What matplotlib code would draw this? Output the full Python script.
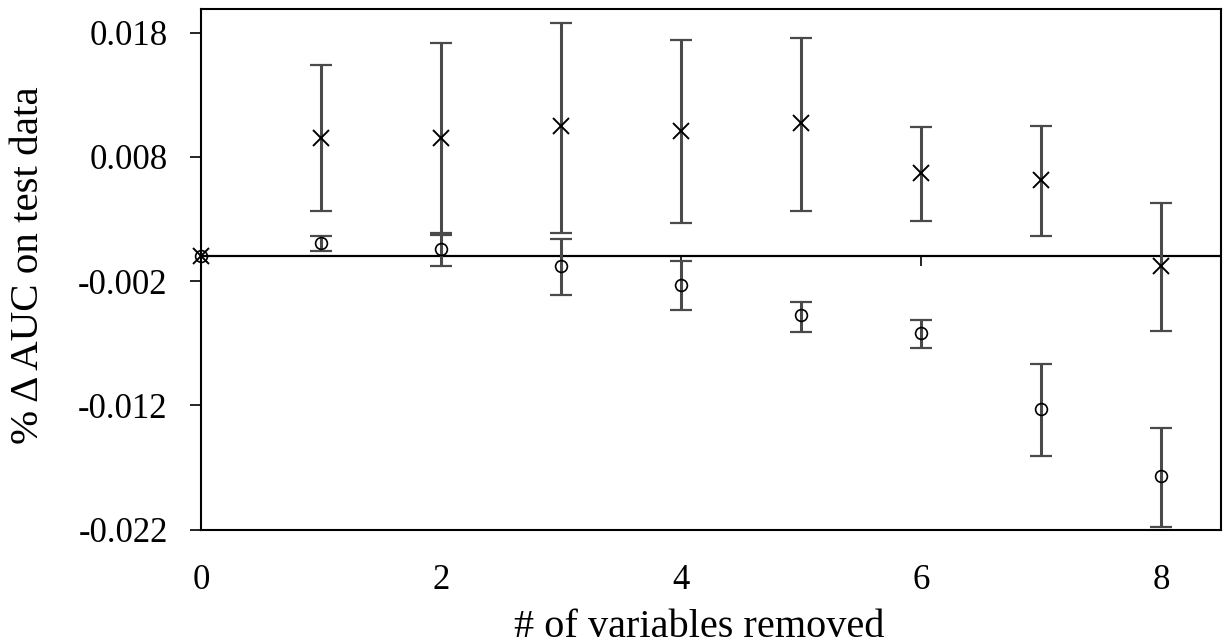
import matplotlib
matplotlib.use("Agg")
import matplotlib.pyplot as plt
import numpy as np

plt.rcParams['font.family'] = ['Liberation Serif', 'DejaVu Serif']

# data
n_removed = [0, 1, 2, 3, 4, 5, 6, 7, 8]
cross_mean  = [0.0, 0.0095, 0.0095, 0.0105, 0.0101, 0.01075, 0.0067, 0.0061, -0.0008]
cross_upper = [0.0, 0.0154, 0.0172, 0.0188, 0.0174, 0.0176, 0.0104, 0.0105, 0.0043]
cross_lower = [0.0, 0.0036, 0.0019, 0.0019, 0.0027, 0.0036, 0.0028, 0.0016, -0.0060]
circ_mean   = [0.0, 0.0011, 0.0006, -0.0008, -0.0023, -0.0047, -0.0062, -0.0123, -0.0177]
circ_upper  = [0.0, 0.0016, 0.0017, 0.0014, -0.0004, -0.0037, -0.0051, -0.0087, -0.0138]
circ_lower  = [0.0, 0.0004, -0.0008, -0.0031, -0.0043, -0.0061, -0.0074, -0.0161, -0.0218]
y_ticks = [-0.022, -0.012, -0.002, 0.008, 0.018]
y_tick_labels = ['-0.022', '-0.012', '-0.002', '0.008', '0.018']
x_ticks = [0, 2, 4, 6, 8]

W, H = 1224, 644
fig = plt.figure(figsize=(W / 100, H / 100), dpi=100)
L, R, T, B = 201, 1221, 9, 529.5
ax = fig.add_axes([L / W, 1 - B / H, (R - L) / W, (B - T) / H])

ylo, yhi = -0.022, 0.0199
ax.set_xlim(0, 8.5)
ax.set_ylim(ylo, yhi)

ax.axhline(0, color='black', lw=1.6, zorder=1)

def draw(mean, upper, lower, marker, ms, mew):
    x = np.array(n_removed)
    m = np.array(mean)
    err = np.vstack([m - np.array(lower), np.array(upper) - m])
    eb = ax.errorbar(x[1:], m[1:], yerr=err[:, 1:], fmt='none', ecolor='#4a4a4a',
                     elinewidth=2.2, capsize=8, capthick=1.6, zorder=2)
    for cap in eb[1]:
        cap.set_color('black')
    ax.plot(x, m, linestyle='none', marker=marker, ms=ms, mfc='none',
            mec='black', mew=mew, zorder=3, clip_on=False)

draw(cross_mean, cross_upper, cross_lower, 'x', 12, 1.4)
draw(circ_mean, circ_upper, circ_lower, 'o', 8.5, 1.2)

ax.set_yticks(y_ticks)
ax.set_yticklabels(y_tick_labels)
ax.tick_params(axis='y', direction='out', length=8, width=1.2, pad=16, labelsize=25)
ax.set_xticks(x_ticks)
ax.tick_params(axis='x', length=0, pad=25, labelsize=25)

for sp in ax.spines.values():
    sp.set_linewidth(1.5)

# ticks on the zero line
zero_frac = (0 - ylo) / (yhi - ylo)
sec = ax.secondary_xaxis(zero_frac)
sec.set_xticks(x_ticks[1:])
sec.tick_params(axis='x', direction='out', length=7, width=1.2, labelbottom=False,
                labeltop=False)
sec.spines['bottom'].set_visible(False)
sec.spines['top'].set_visible(False)
sec.xaxis.set_ticks_position('bottom')
sec.tick_params(labelbottom=False)

ax.set_xlabel('# of variables removed', fontsize=29)
ax.set_ylabel('% \u0394 AUC on test data', fontsize=29.5)
ax.xaxis.set_label_coords(0.488, -0.152)
ax.xaxis.label.set_va('top')
ax.yaxis.set_label_coords(-0.151, 0.507)

fig.savefig('out.png', dpi=100)
